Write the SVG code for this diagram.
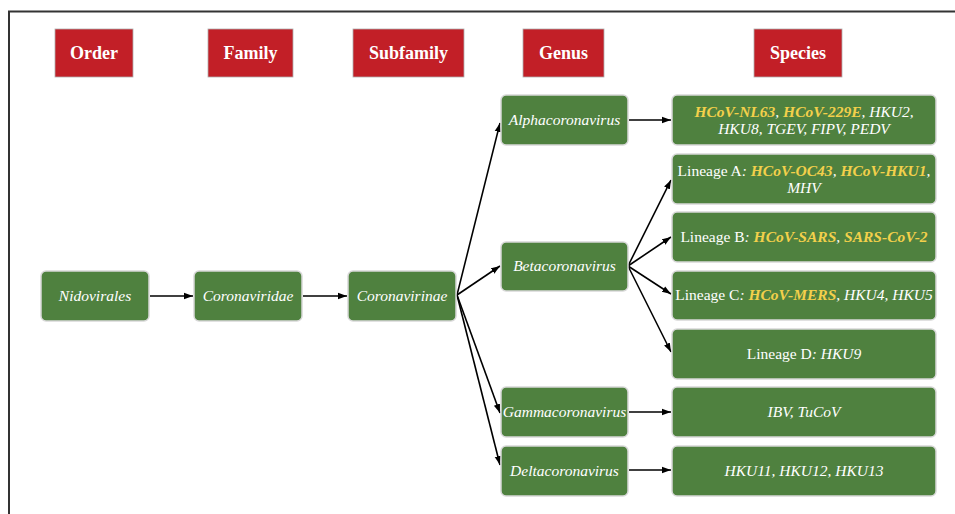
<svg xmlns="http://www.w3.org/2000/svg" width="955" height="514" viewBox="0 0 955 514">
<defs>
<style>
text{font-family:'Liberation Serif','Times New Roman','DejaVu Serif',serif}
.hdr{fill:#C21F27;stroke:#b0b0b0;stroke-width:0.8}
.ht{font-weight:bold;font-size:18px;fill:#ffffff;text-anchor:middle}
.box{fill:#4F813F;stroke:#d8d8d8;stroke-width:1.5}
.t{font-size:15.5px;fill:#ffffff;text-anchor:middle}
.i{font-style:italic}
.y{font-style:italic;font-weight:bold;fill:#F3D04B}
.ln{stroke:#000;stroke-width:1.6;fill:none;marker-end:url(#ah)}
</style>
<marker id="ah" markerWidth="10" markerHeight="8" refX="9" refY="4" orient="auto" markerUnits="userSpaceOnUse">
<path d="M0,0.8 L9,4 L0,7.2 Z" fill="#000"/>
</marker>
</defs>
<rect x="0" y="0" width="955" height="514" fill="#ffffff"/>
<path d="M9,514 L9,11.5 L955,11.5" fill="none" stroke="#333" stroke-width="2"/>

<g id="h-order"><rect class="hdr" x="55" y="29" width="78" height="48"/><text class="ht" x="94" y="59" font-family="Liberation Serif, serif">Order</text></g>
<g id="h-family"><rect class="hdr" x="208" y="29" width="85" height="48"/><text class="ht" x="250.5" y="59" font-family="Liberation Serif, serif">Family</text></g>
<g id="h-subfamily"><rect class="hdr" x="353" y="29" width="111" height="48"/><text class="ht" x="408.5" y="59" font-family="Liberation Serif, serif">Subfamily</text></g>
<g id="h-genus"><rect class="hdr" x="523" y="29" width="81" height="48"/><text class="ht" x="563.5" y="59" font-family="Liberation Serif, serif">Genus</text></g>
<g id="h-species"><rect class="hdr" x="754" y="29" width="88" height="48"/><text class="ht" x="798" y="59" font-family="Liberation Serif, serif">Species</text></g>

<g id="connectors">
<line class="ln" x1="150" y1="296" x2="193" y2="296"/>
<line class="ln" x1="303" y1="296" x2="347" y2="296"/>
<line class="ln" x1="457" y1="295" x2="500" y2="123"/>
<line class="ln" x1="457" y1="295" x2="500" y2="266"/>
<line class="ln" x1="457" y1="295" x2="500" y2="413"/>
<line class="ln" x1="457" y1="295" x2="500" y2="465"/>
<line class="ln" x1="629" y1="120" x2="671" y2="120"/>
<line class="ln" x1="628" y1="266" x2="671" y2="180"/>
<line class="ln" x1="628" y1="266" x2="671" y2="237"/>
<line class="ln" x1="628" y1="266" x2="671" y2="294"/>
<line class="ln" x1="628" y1="266" x2="671" y2="352"/>
<line class="ln" x1="629" y1="412" x2="671" y2="412"/>
<line class="ln" x1="629" y1="470" x2="671" y2="470"/>
</g>

<g id="n-nidovirales"><rect class="box" x="41" y="271" width="108" height="50" rx="5"/><text class="t i" x="95" y="301">Nidovirales</text></g>
<g id="n-coronaviridae"><rect class="box" x="194" y="271" width="108" height="50" rx="5"/><text class="t i" x="248" y="301">Coronaviridae</text></g>
<g id="n-coronavirinae"><rect class="box" x="348" y="271" width="108" height="50" rx="5"/><text class="t i" x="402" y="301">Coronavirinae</text></g>

<g id="n-alpha"><rect class="box" x="501" y="95" width="127" height="50" rx="5"/><text class="t i" x="564.5" y="125">Alphacoronavirus</text></g>
<g id="n-beta"><rect class="box" x="501" y="242" width="127" height="49" rx="5"/><text class="t i" x="564.5" y="271">Betacoronavirus</text></g>
<g id="n-gamma"><rect class="box" x="501" y="387" width="127" height="50" rx="5"/><text class="t i" x="564.5" y="417">Gammacoronavirus</text></g>
<g id="n-delta"><rect class="box" x="501" y="446" width="127" height="50" rx="5"/><text class="t i" x="564.5" y="476">Deltacoronavirus</text></g>

<g id="s-alpha"><rect class="box" x="672" y="95" width="264" height="50" rx="5"/>
<text class="t" x="804" y="117"><tspan class="y">HCoV-NL63</tspan><tspan class="i">, </tspan><tspan class="y">HCoV-229E</tspan><tspan class="i">, HKU2,</tspan></text>
<text class="t i" x="804" y="134">HKU8, TGEV, FIPV, PEDV</text></g>

<g id="s-lineage-a"><rect class="box" x="672" y="154" width="264" height="50" rx="5"/>
<text class="t" x="804" y="176">Lineage A<tspan class="i">: </tspan><tspan class="y">HCoV-OC43</tspan><tspan class="i">, </tspan><tspan class="y">HCoV-HKU1</tspan><tspan class="i">,</tspan></text>
<text class="t i" x="804" y="193">MHV</text></g>

<g id="s-lineage-b"><rect class="box" x="672" y="212" width="264" height="50" rx="5"/>
<text class="t" x="804" y="242">Lineage B<tspan class="i">: </tspan><tspan class="y">HCoV-SARS</tspan><tspan class="i">, </tspan><tspan class="y">SARS-CoV-2</tspan></text></g>

<g id="s-lineage-c"><rect class="box" x="672" y="271" width="264" height="49" rx="5"/>
<text class="t" x="804" y="300">Lineage C<tspan class="i">: </tspan><tspan class="y">HCoV-MERS</tspan><tspan class="i">, HKU4, HKU5</tspan></text></g>

<g id="s-lineage-d"><rect class="box" x="672" y="329" width="264" height="50" rx="5"/>
<text class="t" x="804" y="359">Lineage D<tspan class="i">: HKU9</tspan></text></g>

<g id="s-gamma"><rect class="box" x="672" y="387" width="264" height="50" rx="5"/>
<text class="t i" x="804" y="417">IBV, TuCoV</text></g>

<g id="s-delta"><rect class="box" x="672" y="446" width="264" height="50" rx="5"/>
<text class="t i" x="804" y="476">HKU11, HKU12, HKU13</text></g>
</svg>
